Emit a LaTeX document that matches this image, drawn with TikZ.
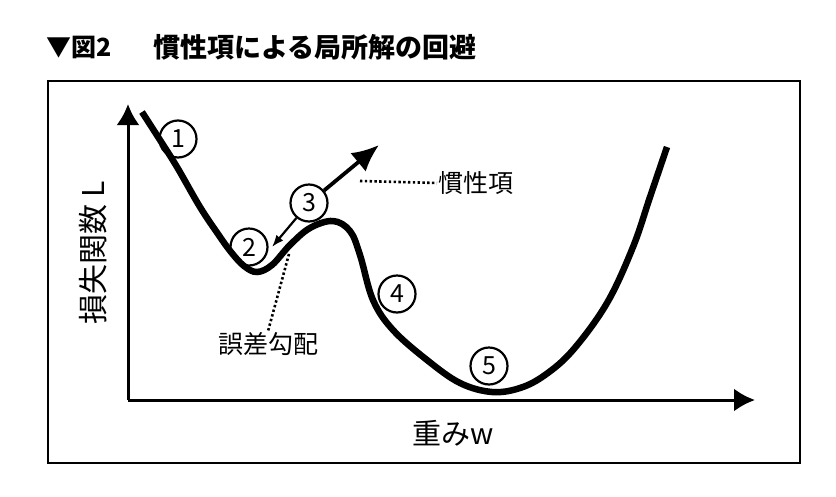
\documentclass[tikz,border=0pt]{standalone}
\usepackage{fontspec}
\setmainfont{Noto Sans CJK JP}
\usetikzlibrary{arrows.meta}

\begin{document}
\begin{tikzpicture}[x=1pt,y=-1pt,
  num/.style={draw,circle,line width=2.2pt,minimum size=37pt,inner sep=0pt,font=\fontsize{25}{25}\selectfont},
  axis/.style={line width=3pt,-{Latex[length=21pt,width=23pt]}},
  dotline/.style={line width=2.6pt,dash pattern=on 2.4pt off 2.4pt},
  lbl/.style={inner sep=1pt,font=\fontsize{25}{25}\selectfont}]
\useasboundingbox (0,0) rectangle (836,496);
% title
\node[anchor=west,inner sep=0pt,font=\fontsize{25}{25}\bfseries] (fig) at (46,47) {▼図2};
\node[anchor=west,inner sep=0pt,font=\fontsize{27}{27}\bfseries] (title) at (153,47) {慣性項による局所解の回避};
% frame and axes
\draw[line width=2.6pt] (48,81) rectangle (800,463);
\coordinate (O) at (128,400);
\coordinate (ytip) at (128,104);
\coordinate (xtip) at (755,400);
\draw[axis] (O) -- (ytip);
\draw[axis] (O) -- (xtip);
\node[rotate=90,font=\fontsize{30}{30}\selectfont] (ylab) at (93,253) {損失関数 L};
\node[font=\fontsize{29}{29}\selectfont] (xlab) at (453,433) {重みw};
% loss curve
\draw[line width=6.5pt] plot[smooth,tension=0.6] coordinates {
  (142,112) (160,140) (177,167) (200,207) (218,234) (231,252) (244,266)
  (257,272) (272,265) (290,245) (310,228) (333,221) (350,231) (360,255)
  (373,300) (393,330) (427,360) (460,383) (492,392) (520,388) (545,375)
  (573,350) (607,303) (633,247) (650,197) (667,147)};
% numbered points
\node[num] (c1) at (178,139) {1};
\node[num] (c2) at (249,247) {2};
\node[num] (c3) at (309,203) {3};
\node[num] (c4) at (397,294) {4};
\node[num] (c5) at (489,366) {5};
% inertia and gradient
\coordinate (mtip) at (379,145);
\coordinate (gtip) at (272,247);
\draw[line width=3.8pt,-{Latex[length=27pt,width=24pt]}] (c3) -- (mtip);
\draw[line width=2.2pt,-{Latex[length=12pt,width=9pt]}] (c3) -- (gtip);
\node[lbl,anchor=west] (inert) at (437,183) {慣性項};
\coordinate (mp) at (360,181);
\draw[dotline] (mp) -- (inert.west);
\node[lbl] (grad) at (268,344) {誤差勾配};
\coordinate (gp) at (289,254);
\draw[dotline] (gp) -- (grad.north);
\end{tikzpicture}
\end{document}
